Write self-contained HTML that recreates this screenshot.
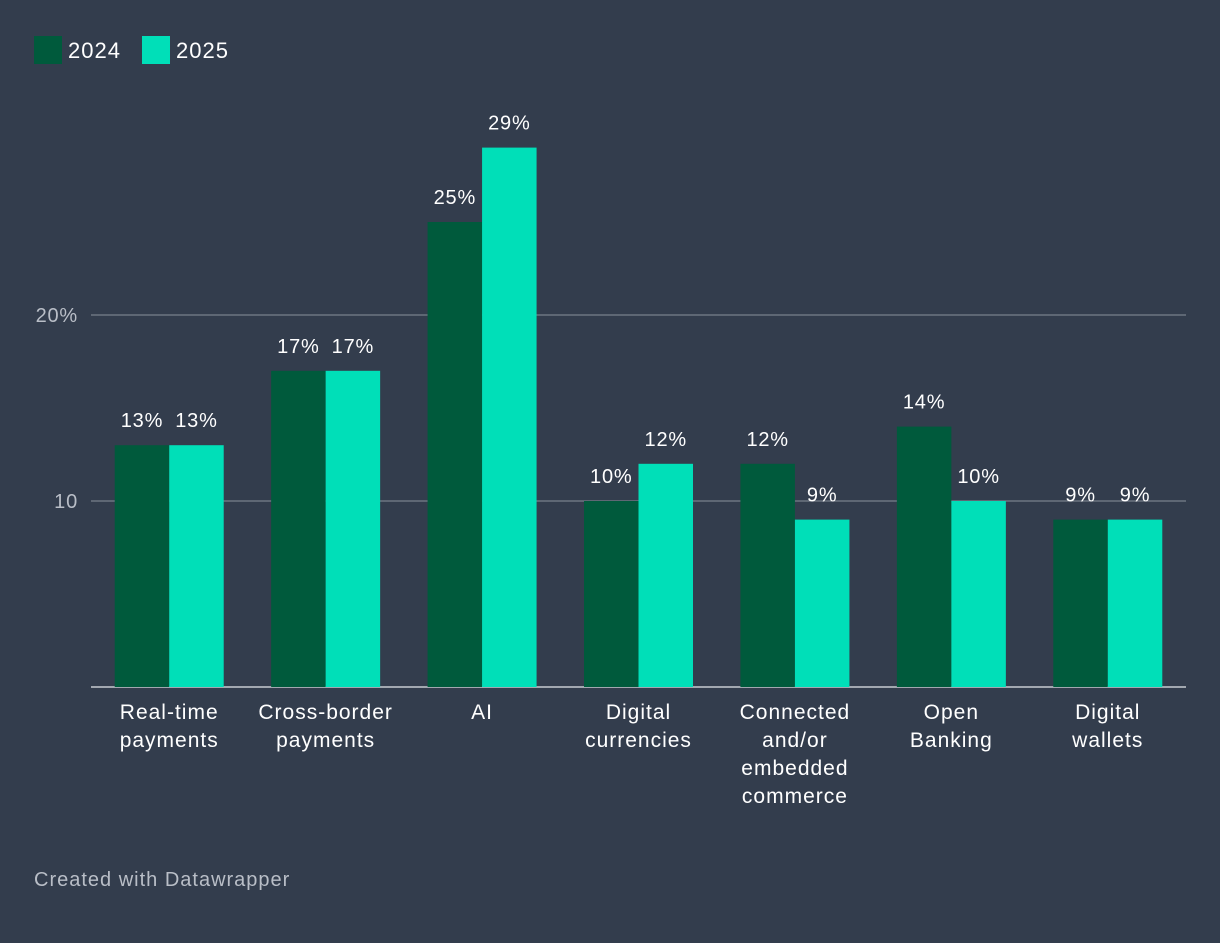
<!DOCTYPE html>
<html><head><meta charset="utf-8">
<style>
html,body{margin:0;padding:0;background:#333d4d;}
body{width:1220px;height:938px;overflow:hidden;font-family:"Liberation Sans",sans-serif;}
svg text{font-family:"Liberation Sans",sans-serif;}
</style></head>
<body>
<svg id="chart" width="1220" height="938">
  <g>
    <rect x="34" y="36" width="28" height="28" fill="#005a3c"/>
    <text x="68" y="58" fill="#ffffff" font-size="22" letter-spacing="1">2024</text>
    <rect x="142" y="36" width="28" height="28" fill="#00dfb8"/>
    <text x="176" y="58" fill="#ffffff" font-size="22" letter-spacing="1">2025</text>
  </g>
  <g id="grid"></g>
  <g id="bars"></g>
  <g id="labels"></g>
  <text x="34" y="886" fill="#b9bec7" font-size="20" letter-spacing="1">Created with Datawrapper</text>
</svg>
<script>
const categories = [["Real-time","payments"],["Cross-border","payments"],["AI"],["Digital","currencies"],["Connected","and/or","embedded","commerce"],["Open","Banking"],["Digital","wallets"]];
const values2024 = [13,17,25,10,12,14,9];
const values2025 = [13,17,29,12,9,10,9];
const yTicks = [10,20];
const yTickLabels = ["10","20%"];

const NS="http://www.w3.org/2000/svg";
const x0=91,x1=1186,yBase=687,pxPer=18.6;
const y=v=>yBase-v*pxPer;
const band=(x1-x0)/categories.length;
const barW=54.5;
function mk(tag,attrs,parent,txt){const e=document.createElementNS(NS,tag);for(const k in attrs)e.setAttribute(k,attrs[k]);if(txt!==undefined)e.textContent=txt;parent.appendChild(e);return e;}
const grid=document.getElementById('grid'),bars=document.getElementById('bars'),labels=document.getElementById('labels');
yTicks.forEach((t,i)=>{
  const l=mk('line',{x1:x0,x2:x1,y1:y(t),y2:y(t),stroke:'#8a919c','stroke-width':1},grid);
  
  
  const tx=mk('text',{x:78,y:y(t)+7,fill:'#b9bec7','font-size':20,'letter-spacing':0.8,'text-anchor':'end'},grid,yTickLabels[i]);
  
  
});
categories.forEach((c,i)=>{
  const cx=x0+band*(i+0.5);
  [[values2024[i],'#005a3c',cx-barW,'2024'],[values2025[i],'#00dfb8',cx,'2025']].forEach(([v,col,bx,yr])=>{
    const r=mk('rect',{x:bx,y:y(v),width:barW,height:v*pxPer,fill:col},bars);
    
    
    const t=mk('text',{x:bx+barW/2,y:y(v)-18,fill:'#ffffff','font-size':20,'letter-spacing':0.8,'text-anchor':'middle'},labels,v+'%');
    
    
  });
  c.forEach((line,j)=>{
    const t=mk('text',{x:cx,y:719+j*28,fill:'#ffffff','font-size':21,'letter-spacing':1,'text-anchor':'middle'},labels,line);
    
    
  });
});
const base=mk('line',{x1:x0,x2:x1,y1:yBase,y2:yBase,stroke:'#c8ccd2','stroke-width':1.5},grid);


</script>
</body></html>
